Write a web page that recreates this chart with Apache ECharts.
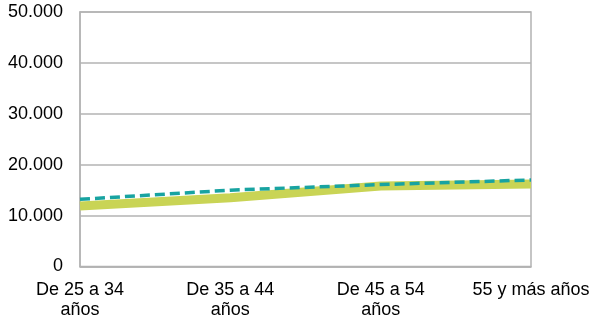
<!DOCTYPE html>
<html>
<head>
<meta charset="utf-8">
<script src="https://cdn.jsdelivr.net/npm/echarts@6/dist/echarts.min.js"></script>
<style>html,body{margin:0;padding:0;background:#fff}#c{width:595px;height:324px}</style>
</head>
<body>
<div id="c"></div>
<script>
var categories = ['De 25 a 34\naños', 'De 35 a 44\naños', 'De 45 a 54\naños', '55 y más años'];
var seriesGreen = [11900, 13500, 15800, 16200];
var seriesTeal = [13200, 15000, 16100, 17000];
var yTicks = [0, 10000, 20000, 30000, 40000, 50000];

function fmt(v) {
  if (v === 0) return '0';
  var s = String(Math.round(v));
  return s.replace(/\B(?=(\d{3})+(?!\d))/g, '.');
}

var chart = echarts.init(document.getElementById('c'), null, {renderer: 'canvas'});
chart.setOption({
  animation: false,
  backgroundColor: '#ffffff',
  grid: {left: 80, right: 64, top: 12, bottom: 57.5, show: true, borderColor: '#B3B3B3', borderWidth: 1.5, backgroundColor: 'transparent'},
  xAxis: {
    type: 'category',
    data: categories,
    boundaryGap: false,
    axisLine: {show: true, lineStyle: {color: '#B3B3B3', width: 1.5}},
    axisTick: {show: false},
    splitLine: {show: false},
    axisLabel: {
      color: '#000', fontFamily: 'Liberation Sans, Arial, sans-serif', fontSize: 18,
      lineHeight: 20, margin: 14, interval: 0
    }
  },
  yAxis: {
    type: 'value',
    min: yTicks[0], max: yTicks[yTicks.length - 1], interval: 10000,
    axisLine: {show: true, lineStyle: {color: '#B3B3B3', width: 1.5}},
    axisTick: {show: false},
    splitLine: {show: true, lineStyle: {color: '#B3B3B3', width: 1.5}},
    axisLabel: {
      color: '#000', fontFamily: 'Liberation Sans, Arial, sans-serif', fontSize: 18,
      margin: 17, formatter: fmt
    }
  },
  series: [
    {type: 'line', data: seriesGreen, showSymbol: false, symbol: 'none',
     lineStyle: {color: '#C9D455', width: 9}},
    {type: 'line', data: seriesTeal, showSymbol: false, symbol: 'none',
     lineStyle: {color: '#18A3A1', width: 3.5, type: [10, 5]}}
  ]
});
</script>
</body>
</html>
